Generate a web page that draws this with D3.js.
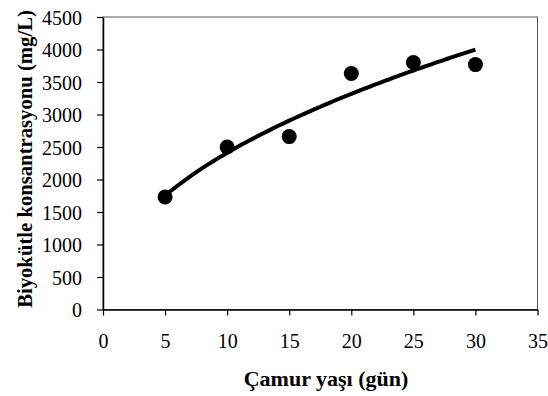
<!DOCTYPE html>
<html lang="tr">
<head>
<meta charset="utf-8">
<title>Biyokütle konsantrasyonu</title>
<script src="https://d3js.org/d3.v7.min.js"></script>
<style>
  body { margin: 0; background: #fff; }
</style>
</head>
<body>
<script>
// veriler
var camurYasi = [5, 10, 15, 20, 25, 30];
var biyokutle = [1730, 2500, 2660, 3630, 3800, 3768];
var xTicks = [0, 5, 10, 15, 20, 25, 30, 35];
var yTicks = [0, 500, 1000, 1500, 2000, 2500, 3000, 3500, 4000, 4500];

var w = 548, h = 396;
var serif = "'Liberation Serif', 'Times New Roman', serif";
var margin = {top: 17, right: 10, bottom: 87, left: 103};
var iw = 537.5 - margin.left, ih = 309.5 - margin.top;

var svg = d3.select("body").append("svg")
  .attr("width", w)
  .attr("height", h)
  .attr("font-family", serif);

var x = d3.scaleLinear().domain([0, 35]).range([0, iw]);
var y = d3.scaleLinear().domain([0, 4500]).range([ih, 0]);

var g = svg.append("g")
  .attr("transform", "translate(" + margin.left + "," + margin.top + ")");

// plot alanı çerçevesi
g.append("rect")
  .attr("x", 0).attr("y", 0)
  .attr("width", iw).attr("height", ih)
  .attr("fill", "none")
  .attr("stroke", "#555")
  .attr("stroke-width", 1);

var xAxis = g.append("g")
  .attr("transform", "translate(0," + ih + ")")
  .call(d3.axisBottom(x).tickValues(xTicks).tickFormat(d3.format("d"))
    .tickSize(6).tickPadding(18).tickSizeOuter(0));
var yAxis = g.append("g")
  .call(d3.axisLeft(y).tickValues(yTicks).tickFormat(d3.format("d"))
    .tickSize(6).tickPadding(15).tickSizeOuter(0));

[xAxis, yAxis].forEach(function(a) {
  a.attr("font-family", serif).attr("font-size", 20);
  a.select(".domain").attr("stroke", "#000").attr("stroke-width", 1.5);
  a.selectAll(".tick line").attr("stroke", "#000").attr("stroke-width", 1.2);
  a.selectAll(".tick text").attr("fill", "#000");
});
yAxis.selectAll(".tick text").attr("dy", "0.35em");

// üs eğilim çizgisi (log-log regresyon)
var lx = camurYasi.map(Math.log), ly = biyokutle.map(Math.log);
var mx = d3.mean(lx), my = d3.mean(ly);
var b = d3.sum(lx, function(v, i) { return (v - mx) * (ly[i] - my); }) /
        d3.sum(lx, function(v) { return (v - mx) * (v - mx); });
var a = Math.exp(my - b * mx);
var xs = d3.range(5, 30.01, 0.25);

g.append("path")
  .datum(xs)
  .attr("fill", "none")
  .attr("stroke", "#000")
  .attr("stroke-width", 4)
  .attr("d", d3.line()
    .x(function(d) { return x(d); })
    .y(function(d) { return y(a * Math.pow(d, b)); }));

g.selectAll(".dot")
  .data(camurYasi)
  .enter().append("circle")
  .attr("class", "dot")
  .attr("cx", function(d) { return x(d); })
  .attr("cy", function(d, i) { return y(biyokutle[i]); })
  .attr("r", 7.5)
  .attr("fill", "#000");

svg.append("text")
  .attr("x", 326)
  .attr("y", 386)
  .attr("text-anchor", "middle")
  .attr("font-weight", "bold")
  .attr("font-size", 22)
  .text("Çamur yaşı (gün)");

svg.append("text")
  .attr("transform", "translate(32,159)rotate(-90)")
  .attr("text-anchor", "middle")
  .attr("font-weight", "bold")
  .attr("font-size", 20.7)
  .text("Biyokütle konsantrasyonu (mg/L)");
</script>
</body>
</html>
